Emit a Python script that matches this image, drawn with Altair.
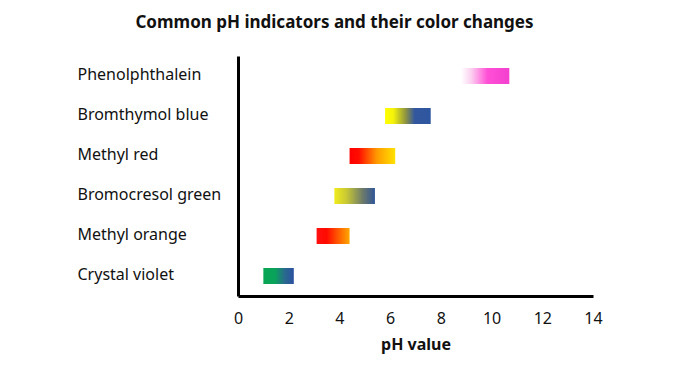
import altair as alt
import pandas as pd

indicators = ["Phenolphthalein", "Bromthymol blue", "Methyl red",
              "Bromocresol green", "Methyl orange", "Crystal violet"]
ph_low = [8.8, 5.8, 4.4, 3.8, 3.1, 1.0]
ph_high = [10.7, 7.6, 6.2, 5.4, 4.4, 2.2]
x_ticks = [0, 2, 4, 6, 8, 10, 12, 14]

# gradient stops (offset, colour) for each indicator's colour change
gradients = {
    "Phenolphthalein": [(0, "#ffffff"), (0.2, "#fcd3f1"), (0.55, "#ff4fd6"), (1, "#f43fcf")],
    "Bromthymol blue": [(0, "#ffff00"), (0.18, "#f4f30a"), (0.45, "#8f9440"), (0.65, "#33579e"), (1, "#2e56a0")],
    "Methyl red": [(0, "#ff0000"), (0.2, "#ff0c00"), (0.6, "#ff9a00"), (1, "#ffe200")],
    "Bromocresol green": [(0, "#f0ec1c"), (0.3, "#c8c834"), (0.7, "#6d7a6a"), (1, "#2f5597")],
    "Methyl orange": [(0, "#ff1010"), (0.3, "#ff0a00"), (1, "#ffa800")],
    "Crystal violet": [(0, "#08a654"), (0.38, "#0aa35a"), (0.7, "#2a6a8e"), (1, "#2b50a0")],
}

df = pd.DataFrame({"indicator": indicators, "low": ph_low, "high": ph_high})

FONT = "Noto Sans"

base = alt.Chart(df).encode(
    x=alt.X("low:Q",
            scale=alt.Scale(domain=[0, 14], nice=False, zero=False),
            axis=alt.Axis(values=x_ticks, title="pH value", format="d")),
    x2="high:Q",
    y=alt.Y("indicator:N",
            scale=alt.Scale(domain=indicators, paddingInner=0, paddingOuter=0),
            sort=indicators,
            axis=alt.Axis(title=None)),
)

layers = []
for name in indicators:
    stops = [alt.GradientStop(offset=o, color=c) for o, c in gradients[name]]
    grad = alt.Gradient(gradient="linear", stops=stops, x1=0, x2=1, y1=0, y2=0)
    layers.append(
        base.transform_filter(alt.datum.indicator == name)
        .mark_bar(color=grad, height=16, cornerRadius=0)
    )

chart = alt.layer(*layers).properties(
    width=355,
    height=240,
    title=alt.Title("Common pH indicators and their color changes",
                    anchor="middle", dx=-81, offset=24,
                    fontSize=17, fontWeight="bold", font=FONT, color="#111"),
    autosize=alt.AutoSizeParams(type="none"),
    padding={"left": 230, "top": 48, "right": 70, "bottom": 60},
    background="white",
).configure_view(
    stroke=None
).configure_axis(
    grid=False,
    ticks=False,
    tickSize=0,
    domainColor="#000",
    domainWidth=3,
    labelFont=FONT,
    labelFontSize=16,
    labelColor="#111",
    titleFont=FONT,
    titleFontSize=16,
    titleFontWeight="bold",
    titleColor="#111",
).configure_axisY(
    labelAlign="left",
    labelPadding=161,
    labelBaseline="middle",
    labelOffset=-1.5,
).configure_axisX(
    labelPadding=14,
    labelFlush=False,
    titlePadding=10,
)

chart.save("out.html", embed_options={"renderer": "svg", "actions": False})
